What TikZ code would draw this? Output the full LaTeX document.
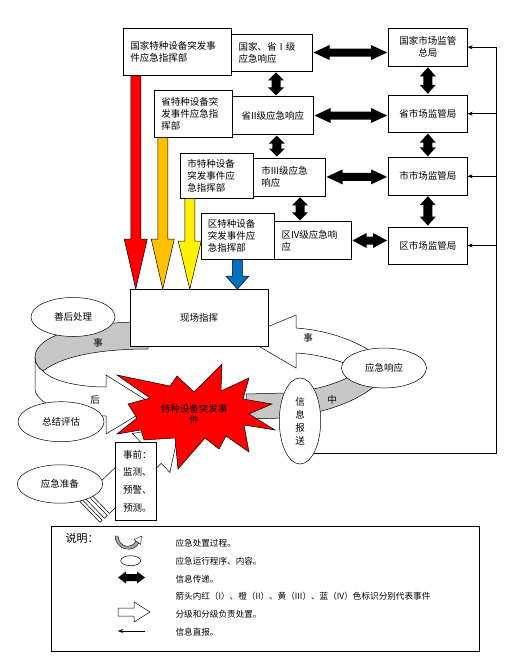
\documentclass[tikz,border=0pt]{standalone}
\usepackage{fontspec}
\setmainfont{Noto Sans CJK SC}
\usepackage{tikz}
\usetikzlibrary{arrows.meta,shapes.geometric,positioning,calc}

\definecolor{lvorange}{RGB}{255,192,0}
\definecolor{lvblue}{RGB}{0,112,192}

% coloured block arrow pointing down: colour, start, tip, head length
\newcommand{\colarrow}[4]{%
  \filldraw[fill=#1] ($(#2)+(-5,0)$) -- ($(#3)+(-5,-#4)$) -- ($(#3)+(-11.5,-#4)$) -- (#3)
    -- ($(#3)+(11.5,-#4)$) -- ($(#3)+(5,-#4)$) -- ($(#2)+(5,0)$) -- cycle;}
% black double block arrows: left/top end, right/bottom end, head length
\newcommand{\hdblarrow}[3]{%
  \fill ($(#1)+(1,0)$) -- ($(#1)+(1+#3,-7.5)$) -- ($(#1)+(1+#3,-4)$) -- ($(#2)+(-1-#3,-4)$)
    -- ($(#2)+(-1-#3,-7.5)$) -- ($(#2)+(-1,0)$) -- ($(#2)+(-1-#3,7.5)$) -- ($(#2)+(-1-#3,4)$)
    -- ($(#1)+(1+#3,4)$) -- ($(#1)+(1+#3,7.5)$) -- cycle;}
\newcommand{\vdblarrow}[3]{%
  \fill ($(#1)+(0,1)$) -- ($(#1)+(8,1+#3)$) -- ($(#1)+(4.5,1+#3)$) -- ($(#2)+(4.5,-1-#3)$)
    -- ($(#2)+(8,-1-#3)$) -- ($(#2)+(0,-1)$) -- ($(#2)+(-8,-1-#3)$) -- ($(#2)+(-4.5,-1-#3)$)
    -- ($(#1)+(-4.5,1+#3)$) -- ($(#1)+(-8,1+#3)$) -- cycle;}

\begin{document}
\begin{tikzpicture}[x=1pt, y=-1pt, line width=0.5pt,
    font=\fontsize{9.5}{12}\selectfont,
    cmd/.style={draw, fill=white, align=left, inner xsep=7pt, inner ysep=0pt},
    mkt/.style={draw, fill=white, align=center, minimum width=79pt, minimum height=37.3pt, inner sep=0pt},
    oval/.style={draw, fill=white, ellipse, inner sep=0pt},
    band/.style={draw, fill=black!22},
    direct/.style={-{Stealth[length=5pt, width=4pt]}},
    legtext/.style={anchor=west, font=\fontsize{8.6}{10}\selectfont}]
    \useasboundingbox (0,0) rectangle (514,670);

    % back of the cycle
    \filldraw[band] (148,322) .. controls (90,321) and (35,334) .. (35,357)
        .. controls (35,363) and (38,368) .. (43,371) .. controls (62,356) and (100,349) .. (148,349) -- cycle;
    \filldraw[band] (246,394) -- (285,393) .. controls (318,391) and (352,380) .. (372,362) -- (388,372)
        .. controls (368,400) and (325,413) .. (285,418) -- (246,419) -- cycle;

    % front of the cycle
    \filldraw[fill=white] (35,357) -- (35,389) .. controls (35,404) and (70,416) .. (106,416) -- (106,434)
        -- (154,405) -- (106,375) -- (106,387) .. controls (78,387) and (52,381) .. (43,371)
        .. controls (38,368) and (35,363) .. (35,357) -- cycle;
    \filldraw[fill=white] (296,328) .. controls (325,330) and (352,339) .. (372,352) -- (352,366)
        .. controls (335,359) and (315,354) .. (296,353) -- (296,368) -- (243,337) -- (296,315) -- cycle;

    % before the event
    \begin{scope}[shift={(90,512)}, rotate=44]
        \filldraw[fill=white] (0,-14.5) rectangle (3,14.5);
        \filldraw[fill=white] (6,-14.5) rectangle (10,14.5);
        \filldraw[fill=white] (13,-14.5) -- (85,-14.5) -- (85,-27) -- (125,0) -- (85,27) -- (85,14.5) -- (13,14.5) -- cycle;
    \end{scope}

    % command boxes
    \node[cmd, text width=94.4pt, minimum height=46.7pt] (c1) at (177.5,51.7) {国家特种设备突发事\\件应急指挥部};
    \node[cmd, text width=64pt, minimum height=46.6pt] (c2) at (193.3,114) {省特种设备突\\发事件应急指\\挥部};
    \node[cmd, text width=59pt, minimum height=45pt] (c3) at (216.8,175.8) {市特种设备\\突发事件应\\急指挥部};
    \node[cmd, text width=59.7pt, minimum height=46pt] (c4) at (237.8,236.3) {区特种设备\\突发事件应\\急指挥部};

    % response levels
    \node[cmd, text width=66.6pt, minimum height=37pt] (r1) at (272,52.5) {国家、省 I 级\\应急响应};
    \node[cmd, align=center, text width=67pt, minimum height=37.6pt] (r2) at (272.8,115.5) {省II级应急响应};
    \node[cmd, text width=56pt, inner xsep=8pt, minimum height=38.3pt] (r3) at (289.3,176.9) {市III级应急\\响应};
    \node[cmd, text width=62.6pt, minimum height=37.6pt] (r4) at (313,240.5) {区IV级应急响\\应};

    % market supervision
    \node[mkt, minimum height=37.7pt] (m1) at (427.8,47.2) {国家市场监管\\总局};
    \node[mkt] (m2) at (427.8,113.7) {省市场监管局};
    \node[mkt] (m3) at (427.8,176.3) {市市场监管局};
    \node[mkt] (m4) at (427.8,245.5) {区市场监管局};

    % information transfer
    \hdblarrow{r1.east}{r1.east -| m1.west}{16}
    \hdblarrow{r2.east}{r2.east -| m2.west}{16}
    \hdblarrow{r3.east}{r3.east -| m3.west}{16}
    \hdblarrow{r4.east}{r4.east -| m4.west}{14}
    \coordinate (v1) at ([xshift=4pt]r1.south);
    \coordinate (v2) at ([xshift=4pt]r2.south);
    \coordinate (v3) at ([xshift=10.7pt]r3.south);
    \vdblarrow{v1}{v1 |- r2.north}{8}
    \vdblarrow{v2}{v2 |- r3.north}{8}
    \vdblarrow{v3}{v3 |- r4.north}{8}
    \vdblarrow{m1.south}{m2.north}{9}
    \vdblarrow{m2.south}{m3.north}{9}
    \vdblarrow{m3.south}{m4.north}{9}

    % site command
    \node[draw, fill=white, minimum width=138.3pt, minimum height=56.7pt, inner sep=0pt] (site) at (199.2,317.7) {现场指挥};

    % levels down to the site
    \coordinate (ra) at ([xshift=12.7pt]c1.south west);
    \coordinate (rb) at (ra |- site.north);
    \coordinate (oa) at ([xshift=8.7pt]c2.south west);
    \coordinate (ob) at (oa |- site.north);
    \coordinate (ya) at ([xshift=9.7pt]c3.south west);
    \coordinate (yb) at (ya |- site.north);
    \coordinate (ba) at ([xshift=36.7pt]c4.south west);
    \coordinate (bb) at (ba |- site.north);
    \colarrow{red}{ra}{rb}{50}
    \colarrow{lvorange}{oa}{ob}{50}
    \colarrow{yellow}{ya}{yb}{48}
    \colarrow{lvblue}{ba}{bb}{13}

    % stages
    \node[oval, minimum width=84pt, minimum height=39pt] (after) at (73,317) {善后处理};
    \node[oval, minimum width=86pt, minimum height=40pt] (review) at (61,421.7) {总结评估};
    \node[oval, minimum width=85.4pt, minimum height=38.4pt] (prep) at (60,484) {应急准备};
    \node[oval, minimum width=85pt, minimum height=40pt] (resp) at (384,368) {应急响应};
    \node[oval, minimum width=41.4pt, minimum height=86pt, font=\fontsize{9.5}{13}\selectfont, align=center] (info) at (300,421) {信\\息\\报\\送};

    % direct report
    \coordinate (rr) at (496,0);
    \draw[direct] (info.-66) -- (info.-66 -| rr) -- (rr |- m1.east) -- (m1.east);
    \draw[direct] (rr |- m2.east) -- (m2.east);
    \draw[direct] (rr |- m3.east) -- (m3.east);
    \draw[direct] (rr |- m4.east) -- (m4.east);

    % the event
    \filldraw[fill=red] (117,375) -- (170,386) -- (177,376) -- (194,392) -- (222,364) -- (221,391)
        -- (249,378) -- (243,399) -- (272,404) -- (249,414) -- (275,430) -- (244,425) -- (249,452)
        -- (226,436) -- (219,449) -- (205,438) -- (178,469) -- (175,438) -- (144,440) -- (141,430)
        -- (117,434) -- (137,418) -- (128,404) -- (150,398) -- cycle;
    \node[align=center, font=\fontsize{9.5}{11}\selectfont] (event) at (194,414) {特种设备突发事\\件};

    \node[draw, fill=white, align=left, text width=26pt, inner xsep=7.6pt, inner ysep=0pt,
        minimum height=77.7pt, font=\fontsize{9.5}{17.8}\selectfont] (before) at (136.1,481.2) {事前：\\监测、\\预警、\\预测。};

    \node (s1) at (98,343) {事};
    \node (s2) at (95,400) {后};
    \node (s3) at (308,338) {事};
    \node (s4) at (332,400) {中};

    % legend
    \node[draw, minimum width=427.6pt, minimum height=125pt, inner sep=0pt] (legend) at (265.5,589.2) {};
    \node[anchor=west, font=\fontsize{11}{13}\selectfont] (lt) at (62,538) {说明：};
    \filldraw[fill=black!35, line width=0.4pt] (115,536) .. controls (116,551) and (134,553) .. (139,543)
        -- (136,541) .. controls (132,549) and (119,548) .. (118,536) -- cycle;
    \filldraw[fill=white, line width=0.4pt] (134.3,539.6) -- (141.5,536) -- (140.7,544.4) -- cycle;
    \draw (130.7,560.7) ellipse (10 and 5);
    \fill (118,577.5) -- (126,571.5) -- (126,574) -- (137,574) -- (137,571.5) -- (145,577.5)
        -- (137,583.5) -- (137,581) -- (126,581) -- (126,583.5) -- cycle;
    \filldraw[fill=white] (118,608) -- (134,608) -- (134,602) -- (150,612) -- (134,622) -- (134,616) -- (118,616) -- cycle;
    \draw[direct] (145,631) -- (118,631);
    \node[legtext] (l1) at (172,543) {应急处置过程。};
    \node[legtext] (l2) at (172,561) {应急运行程序、内容。};
    \node[legtext] (l3) at (172,579) {信息传递。};
    \node[legtext] (l4) at (172,596.5) {箭头内红（I）、橙（II）、黄（III）、蓝（IV）色标识分别代表事件};
    \node[legtext] (l5) at (172,614) {分级和分级负责处置。};
    \node[legtext] (l6) at (172,632) {信息直报。};
\end{tikzpicture}
\end{document}
